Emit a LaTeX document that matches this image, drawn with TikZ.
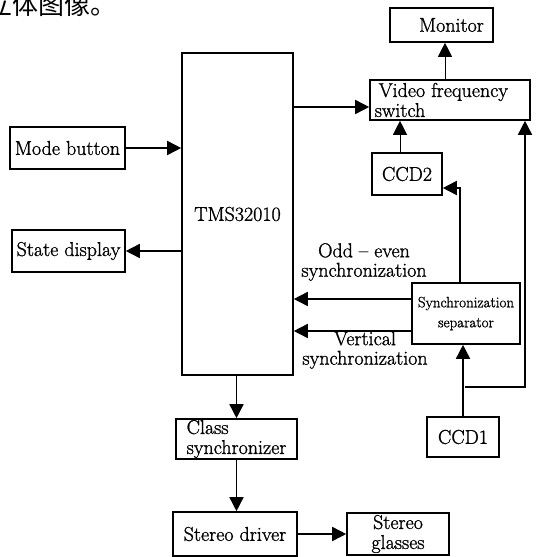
\documentclass[tikz,border=0pt]{standalone}
\usepackage{fontspec}
\setmainfont{Latin Modern Roman}[FakeBold=1.2]
\newfontfamily\cjk{Noto Sans CJK SC}
\usetikzlibrary{arrows.meta}

\begin{document}
\begin{tikzpicture}[x=1pt,y=-1pt,->,>={Triangle[length=14pt,width=14pt]},line width=1.6pt,
  main node/.style={draw,rectangle,inner sep=0pt,font=\fontsize{20}{20}\selectfont,align=center},
  small node/.style={main node,font=\fontsize{15}{20}\selectfont},
  thin edge/.style={line width=0.9pt},
  label text/.style={inner sep=0pt,font=\fontsize{20}{19.5}\selectfont,align=center}]
  \useasboundingbox (0,0) rectangle (553,557);
  \node[anchor=base west,inner sep=0pt,font=\cjk\fontsize{26}{26}\selectfont] (caption) at (-14,14) {立体图像。};

  \node[main node,minimum width=111pt,minimum height=322pt] (tms) at (237.5,214) {TMS32010};
  \node[main node,minimum width=115pt,minimum height=42pt] (mode) at (67.5,148) {Mode button};
  \node[main node,minimum width=113pt,minimum height=42pt] (state) at (68.5,251) {State display};
  \node[main node,minimum width=103pt,minimum height=34pt] (monitor) at (441.5,25) {\hspace*{20pt}Monitor};
  \node[main node,minimum width=160pt,minimum height=40pt,align=left] (video) at (450,100) {\hspace*{4pt}Video frequency\\switch\hspace*{100pt}};
  \node[main node,minimum width=70pt,minimum height=42pt] (ccd2) at (407,174) {CCD2};
  \node[small node,minimum width=108pt,minimum height=61pt] (sep) at (466,313.5) {Synchronization\\separator};
  \node[main node,minimum width=72pt,minimum height=40pt] (ccd1) at (463,437) {CCD1};
  \node[main node,minimum width=121pt,minimum height=40pt,align=left] (class) at (236.5,439) {Class\\synchronizer};
  \node[main node,minimum width=124pt,minimum height=44pt] (driver) at (235,534) {Stereo driver};
  \node[main node,minimum width=102pt,minimum height=42pt] (glasses) at (398,534) {Stereo\\glasses};

  \node[label text] (oddlabel) at (364,262) {Odd -- even\\synchronization};
  \node[label text] (vertlabel) at (365,350) {Vertical\\synchronization};

  \coordinate (split) at (465,387);

  \path
    (mode.east) edge (mode.east -| tms.west)
    (state.east -| tms.west) edge (state.east)
    ([yshift=-7pt]video.west -| tms.east) edge ([yshift=-7pt]video.west)
    ([yshift=14.5pt]sep.west) edge ([yshift=14.5pt]sep.west -| tms.east)
    ([yshift=-17.5pt]sep.west) edge ([yshift=-17.5pt]sep.west -| tms.east)
    (class.north |- tms.south) edge (class.north)
    (class.south) edge (class.south |- driver.north)
    (driver.east) edge (glasses.west)
    (ccd1.north) edge (ccd1.north |- sep.south)
  ;
  \path[thin edge]
    ([xshift=-7pt]ccd2.north) edge ([xshift=-7pt]ccd2.north |- video.south)
    ([xshift=3.5pt]monitor.south |- video.north) edge ([xshift=3.5pt]monitor.south)
  ;
  \draw ([xshift=-6pt]sep.north) |- ([yshift=-14pt]ccd2.east);
  \draw (split) -| ([xshift=75pt]video.south);
\end{tikzpicture}
\end{document}
